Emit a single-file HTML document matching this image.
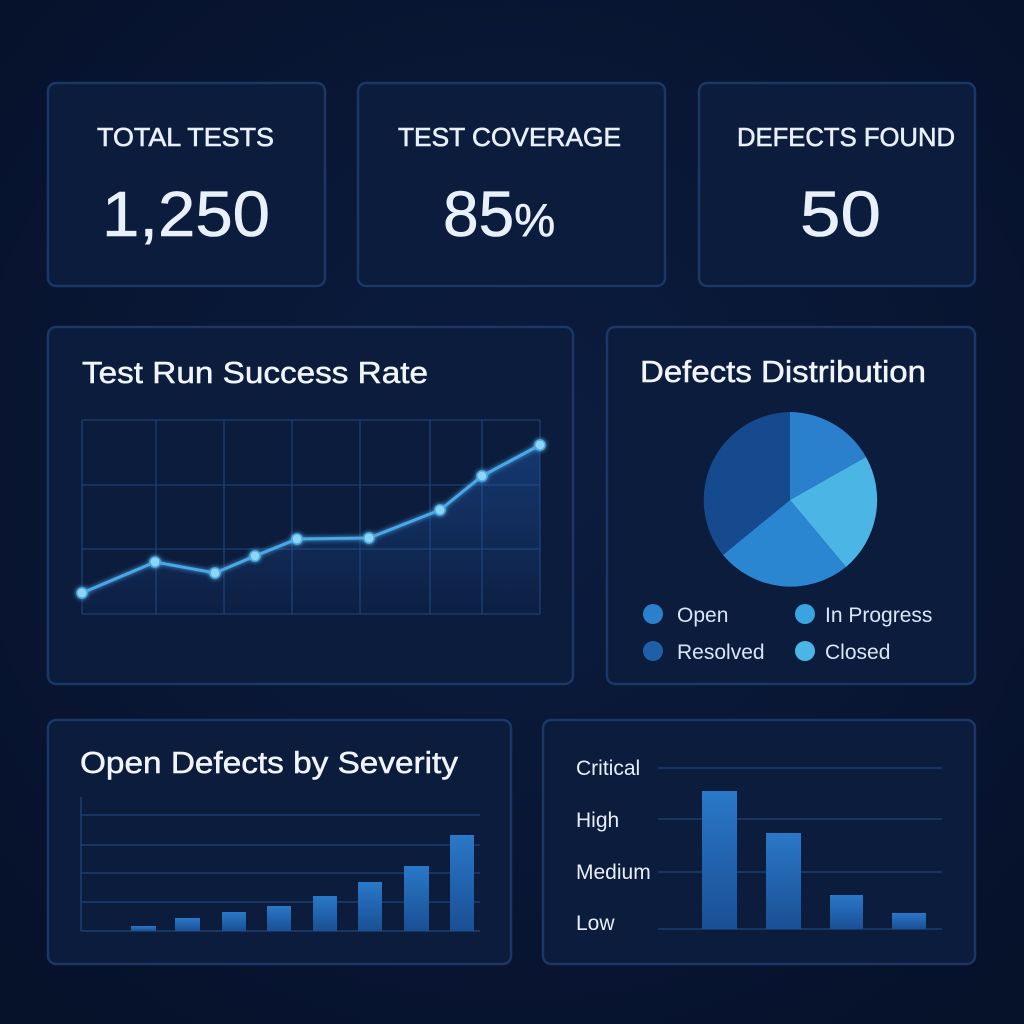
<!DOCTYPE html>
<html><head><meta charset="utf-8"><style>
html,body{margin:0;padding:0;background:#081530;}
svg{display:block;font-family:"Liberation Sans",sans-serif;}
</style></head><body>
<svg width="1024" height="1024" viewBox="0 0 1024 1024" xmlns="http://www.w3.org/2000/svg">
<defs>
<radialGradient id="bg" cx="50%" cy="45%" r="70%"><stop offset="0" stop-color="#0c1d40"/><stop offset="1" stop-color="#06112a"/></radialGradient>
<linearGradient id="area" x1="0" y1="0" x2="0" y2="1"><stop offset="0" stop-color="#1f5cae" stop-opacity="0.45"/><stop offset="1" stop-color="#1f5cae" stop-opacity="0.05"/></linearGradient>
<linearGradient id="bar" x1="0" y1="0" x2="0" y2="1"><stop offset="0" stop-color="#2a78c8"/><stop offset="1" stop-color="#1a4f94"/></linearGradient>
<filter id="glow"><feGaussianBlur stdDeviation="2.5" result="b"/><feMerge><feMergeNode in="b"/><feMergeNode in="SourceGraphic"/></feMerge></filter>
</defs>
<rect width="1024" height="1024" fill="url(#bg)"/>
<g fill="#0c1c3d" stroke="#1a3766" stroke-width="2.5">
<rect x="48" y="83" width="277" height="203" rx="8"/>
<rect x="358" y="83" width="307" height="203" rx="8"/>
<rect x="699" y="83" width="276" height="203" rx="8"/>
<rect x="48" y="327" width="525" height="357" rx="8"/>
<rect x="607" y="327" width="368" height="357" rx="8"/>
<rect x="48" y="720" width="463" height="244" rx="8"/>
<rect x="543" y="720" width="432" height="244" rx="8"/>
</g>
<g fill="#e8f0fb" stroke="#e8f0fb" stroke-width="0.6">
<text x="97" y="146" font-size="26" textLength="177" lengthAdjust="spacingAndGlyphs">TOTAL TESTS</text>
<text x="398" y="146" font-size="26" textLength="223" lengthAdjust="spacingAndGlyphs">TEST COVERAGE</text>
<text x="737" y="146" font-size="26" textLength="218" lengthAdjust="spacingAndGlyphs">DEFECTS FOUND</text>
<text x="102" y="236" font-size="64" textLength="168" lengthAdjust="spacingAndGlyphs">1,250</text>
<text x="443" y="236" font-size="64">85<tspan font-size="46">%</tspan></text>
<text x="800" y="236" font-size="64" textLength="81" lengthAdjust="spacingAndGlyphs">50</text>
</g>
<g fill="#f0f4fb" stroke="#f0f4fb" stroke-width="0.5">
<text x="82" y="383" font-size="31" textLength="346" lengthAdjust="spacingAndGlyphs">Test Run Success Rate</text>
<text x="640" y="382" font-size="31" textLength="286" lengthAdjust="spacingAndGlyphs">Defects Distribution</text>
<text x="80" y="773" font-size="31" textLength="378" lengthAdjust="spacingAndGlyphs">Open Defects by Severity</text>
</g>
<g stroke="#1d3e70" stroke-width="1.3" fill="none">
<path d="M82 420H540M82 485H540M82 549H540M82 614H540"/>
<path d="M82 420V614M156 420V614M224 420V614M292 420V614M360 420V614M430 420V614M482 420V614M540 420V614"/>
</g>
<path d="M82 593L155 562L215 573L255 556L297 539L369 538L440 510L482 476L540 445V614H82Z" fill="url(#area)"/>
<g filter="url(#glow)">
<polyline points="82,593 155,562 215,573 255,556 297,539 369,538 440,510 482,476 540,445" fill="none" stroke="#4aa8e8" stroke-width="3"/>
<g fill="#8fd6f5" stroke="#4ab0ea" stroke-width="1.5">
<circle cx="82" cy="593" r="5"/><circle cx="155" cy="562" r="5"/><circle cx="215" cy="573" r="5"/><circle cx="255" cy="556" r="5"/><circle cx="297" cy="539" r="5"/><circle cx="369" cy="538" r="5"/><circle cx="440" cy="510" r="5"/><circle cx="482" cy="476" r="5"/><circle cx="540" cy="445" r="5"/>
</g></g>
<g>
<path d="M790 500L790 412A88 88 0 0 0 723 555Z" fill="#164a8e"/>
<path d="M790 500L790 412A88 88 0 0 1 866 457Z" fill="#2a80cc"/>
<path d="M790 500L866 457A88 88 0 0 1 846 567Z" fill="#4bb6e6"/>
<path d="M790 500L846 567A88 88 0 0 1 723 555Z" fill="#2b86d2"/>
</g>
<circle cx="653" cy="614" r="10" fill="#2a80cc"/>
<circle cx="805" cy="614" r="10" fill="#3aa4e0"/>
<circle cx="653" cy="651" r="10" fill="#1f5fa8"/>
<circle cx="805" cy="651" r="10" fill="#4bb6e6"/>
<g fill="#d8e6f7" font-size="21">
<text x="677" y="622">Open</text><text x="825" y="622">In Progress</text>
<text x="677" y="659">Resolved</text><text x="825" y="659">Closed</text>
</g>
<g stroke="#1d3e70" stroke-width="1.5">
<path d="M81 815H480M81 845H480M81 873H480M81 902H480M81 931H480M81 797V931"/>
</g>
<g fill="url(#bar)">
<rect x="131" y="926" width="25" height="5"/>
<rect x="175" y="918" width="25" height="13"/>
<rect x="222" y="912" width="24" height="19"/>
<rect x="267" y="906" width="24" height="25"/>
<rect x="313" y="896" width="24" height="35"/>
<rect x="358" y="882" width="24" height="49"/>
<rect x="404" y="866" width="25" height="65"/>
<rect x="450" y="835" width="24" height="96"/>
</g>
<g stroke="#1d3e70" stroke-width="1.5"><path d="M658 768H942M658 819H942M658 872H942M658 929H942"/></g>
<g fill="#e8eef8" font-size="21">
<text x="576" y="775">Critical</text><text x="576" y="827">High</text><text x="576" y="879">Medium</text><text x="576" y="930">Low</text>
</g>
<g fill="url(#bar)">
<rect x="702" y="791" width="35" height="138"/>
<rect x="766" y="833" width="35" height="96"/>
<rect x="830" y="895" width="33" height="34"/>
<rect x="892" y="913" width="34" height="16"/>
</g>
</svg>
</body></html>
